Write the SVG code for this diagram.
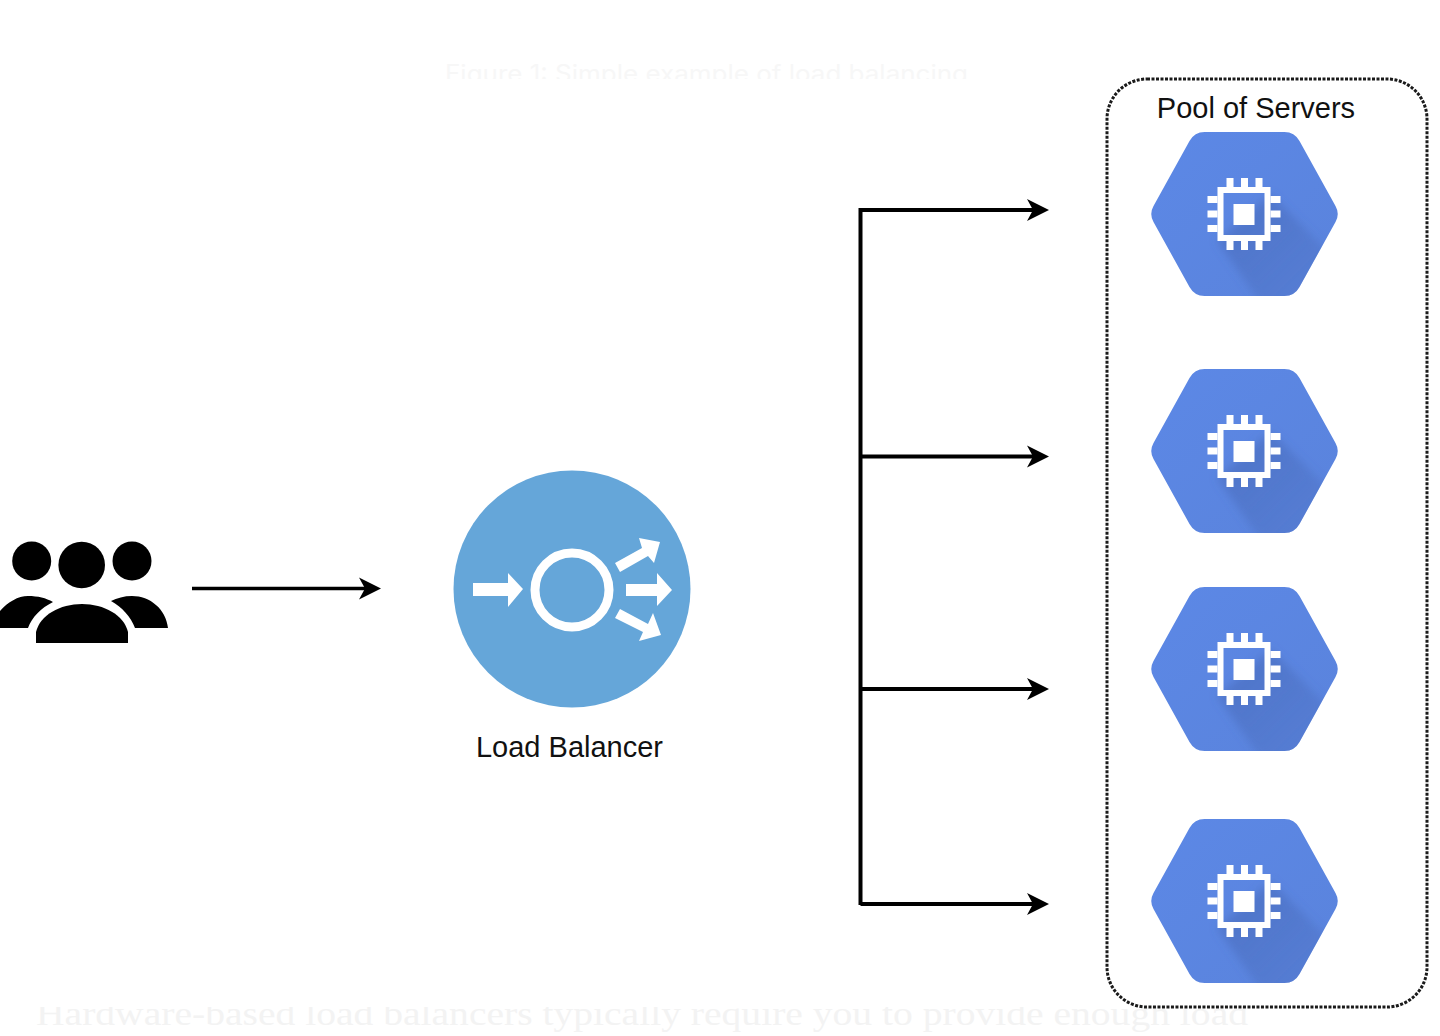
<svg xmlns="http://www.w3.org/2000/svg" width="1440" height="1036" viewBox="0 0 1440 1036">
<style>
.lbl{font-family:"Liberation Sans",Arial,sans-serif;font-size:29px;fill:#111}
.conn{fill:none;stroke:#000;stroke-width:4}
.w{fill:#fff}
</style>
<defs>
<linearGradient id="hex" x1="0" y1="0" x2="1" y2="1"><stop offset="0" stop-color="#5c88e6"/><stop offset="1" stop-color="#5a83dc"/></linearGradient>
<linearGradient id="shade" gradientUnits="userSpaceOnUse" x1="10" y1="10" x2="70" y2="70"><stop offset="0" stop-color="#4a6dbd" stop-opacity=".6"/><stop offset="1" stop-color="#4a6dbd" stop-opacity=".3"/></linearGradient>
<filter id="soft" x="-30%" y="-30%" width="160%" height="160%"><feGaussianBlur stdDeviation="4"/></filter>
<clipPath id="top"><rect x="0" y="0" width="1440" height="79"/></clipPath>
<clipPath id="bot"><rect x="0" y="1007" width="1440" height="29"/></clipPath>
<clipPath id="hexclip"><path d="M-40-82H40Q50-82 55-73L91-8Q95.500 0 91 8L55 73Q50 82 40 82H-40Q-50 82-55 73L-91 8Q-95.500 0-91-8L-55-73Q-50-82-40-82Z"/></clipPath>
<g id="server">
<path d="M-40-82H40Q50-82 55-73L91-8Q95.500 0 91 8L55 73Q50 82 40 82H-40Q-50 82-55 73L-91 8Q-95.500 0-91-8L-55-73Q-50-82-40-82Z" fill="url(#hex)"/>
<g clip-path="url(#hexclip)"><path d="M26-20 110 64V110H30L-27 27Z" fill="url(#shade)" filter="url(#soft)"/></g>
<path fill-rule="evenodd" class="w" d="M-27-27H26V27H-27ZM-21-21V21H20V-21Z"/>
<rect class="w" x="-11" y="-10" width="21" height="21"/>
<g class="w">
<rect x="-18" y="-36" width="7" height="9"/><rect x="-3.500" y="-36" width="7" height="9"/><rect x="11" y="-36" width="7" height="9"/>
<rect x="-18" y="27" width="7" height="9"/><rect x="-3.500" y="27" width="7" height="9"/><rect x="11" y="27" width="7" height="9"/>
<rect x="-37" y="-18" width="10" height="7"/><rect x="-37" y="-3.500" width="10" height="7"/><rect x="-37" y="11" width="10" height="7"/>
<rect x="26" y="-18" width="10" height="7"/><rect x="26" y="-3.500" width="10" height="7"/><rect x="26" y="11" width="10" height="7"/>
</g>
</g>
<path id="head" d="M0 0-22-11-16 0-22 11Z" fill="#000"/>
</defs>

<text x="445" y="82" clip-path="url(#top)" font-family="Inter,'Liberation Sans',sans-serif" font-size="24" fill="#f7f7f7" textLength="523" lengthAdjust="spacingAndGlyphs">Figure 1: Simple example of load balancing</text>
<text x="36" y="1025" clip-path="url(#bot)" font-family="'Liberation Serif',serif" font-size="34" fill="#f3f3f3" textLength="1212" lengthAdjust="spacingAndGlyphs">Hardware-based load balancers typically require you to provide enough load</text>

<g id="users" fill="#000">
<circle cx="31.700" cy="561" r="19.500"/><circle cx="81.700" cy="565" r="23.300"/><circle cx="132" cy="561" r="19.500"/>
<path d="M0 628V611C8 602 18 596 28 596C38 596 46 598 53 602C41 608 32 617 28 628Z"/>
<path d="M36 643V632C40 615 60 604 82 604C104 604 124 615 128 632V643Z"/>
<path d="M168 628C166 609 150 596 132 596C124 596 117 598 111 601C122 607 131 617 135 628Z"/>
</g>

<g id="load-balancer">
<circle cx="572" cy="589" r="118.500" fill="#65a6d9"/>
<circle cx="572" cy="590" r="37" fill="none" stroke="#fff" stroke-width="9"/>
<path class="w" d="M473 583H508V573L523 589 508 607V596H473Z"/>
<path class="w" d="M626 584H657V573L672 590 657 606V596H626Z"/>
<path class="w" d="M615 563 642 548 639 538 660 542 654 563 648 556 620 572Z"/>
<path class="w" d="M620 609 648 624 653 613 661 635 639 641 643 632 615 618Z"/>
<text class="lbl" x="569.500" y="756.500" text-anchor="middle">Load Balancer</text>
</g>

<g id="pool">
<rect x="1107" y="79" width="320" height="928" rx="40" fill="none" stroke="#1a1a1a" stroke-width="3" stroke-dasharray="3 1.500"/>
<text class="lbl" x="1256" y="118" text-anchor="middle">Pool of Servers</text>
</g>
<g id="server-1"><use href="#server" x="1244.500" y="214"/></g>
<g id="server-2"><use href="#server" x="1244.500" y="451"/></g>
<g id="server-3"><use href="#server" x="1244.500" y="669"/></g>
<g id="server-4"><use href="#server" x="1244.500" y="901"/></g>

<g id="connectors">
<path class="conn" d="M192 588.500H365" style="stroke-width:3.500"/>
<use href="#head" x="381" y="588.500"/>
<path class="conn" d="M860.500 905V210H1035M860.500 456.500H1035M860.500 689H1035M860.500 904H1035"/>
<use href="#head" x="1049" y="210"/>
<use href="#head" x="1049" y="456.500"/>
<use href="#head" x="1049" y="689"/>
<use href="#head" x="1049" y="904"/>
</g>
</svg>
